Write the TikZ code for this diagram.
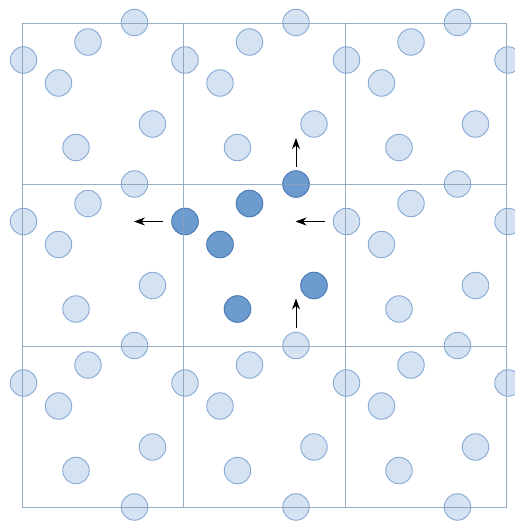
\documentclass[tikz,border=0pt]{standalone}
\usetikzlibrary{arrows.meta, positioning, calc}

\definecolor{imgfill}{HTML}{D5E2F2}
\definecolor{imgedge}{HTML}{86A8D4}
\definecolor{partfill}{HTML}{6C9BD0}
\definecolor{partedge}{HTML}{4D7BB4}
\definecolor{gridline}{HTML}{86A0BA}

\begin{document}
\begin{tikzpicture}[
  x=1pt, y=-1pt, >={Stealth[length=11pt, width=8pt]},
  image/.style    = {draw=imgedge, fill=imgfill, circle, inner sep=0pt, minimum size=26.5pt, line width=0.9pt},
  particle/.style = {image, draw=partedge, fill=partfill},
  cellline/.style = {draw=gridline, draw opacity=0.85, line width=0.9pt},
  move/.style     = {->, line width=0.8pt},
]
  \useasboundingbox (0,0) rectangle (514,522);
  \def\cell{161.5}

  % periodic images in all nine cells
  \foreach \i in {0,1,2} {
    \foreach \j in {0,1,2} {
      \foreach \px/\py in {1.5/37, 66/19, 112.5/-0.5, 36.5/60, 130.5/101, 54/124.5}
        \node[image] at ({22+\i*\cell+\px},{23+\j*\cell+\py}) {};
    }
  }
  % images sitting on the right and bottom edges
  \foreach \j in {0,1,2}
    \node[image] at ({22+3*\cell+1.5},{23+\j*\cell+37}) {};
  \foreach \i in {0,1,2}
    \node[image] at ({22+\i*\cell+112.5},{23+3*\cell-0.5}) {};

  % particles of the central box
  \node[particle] (pa) at (185,221.5)   {};
  \node[particle] (pb) at (249.5,203.5) {};
  \node[particle] (pc) at (296,184)     {};
  \node[particle] (pd) at (220,244.5)   {};
  \node[particle] (pe) at (314,285.5)   {};
  \node[particle] (pf) at (237.5,309)   {};

  % cell boundaries
  \foreach \k in {0,...,3} {
    \draw[cellline] ({22+\k*\cell},23) -- ({22+\k*\cell},507.5);
    \draw[cellline] (22,{23+\k*\cell}) -- (506.5,{23+\k*\cell});
  }

  % leaving and re-entering
  \coordinate (pcin) at ($(pc)+(0,\cell)$);
  \coordinate (pain) at ($(pa)+(\cell,0)$);
  \draw[move] ([yshift=17pt]pc.center)   -- ([yshift=46pt]pc.center);
  \draw[move] ([yshift=18pt]pcin)        -- ([yshift=47pt]pcin);
  \draw[move] ([xshift=-22pt]pa.center)  -- ([xshift=-51pt]pa.center);
  \draw[move] ([xshift=-22pt]pain)       -- ([xshift=-51pt]pain);
\end{tikzpicture}
\end{document}
